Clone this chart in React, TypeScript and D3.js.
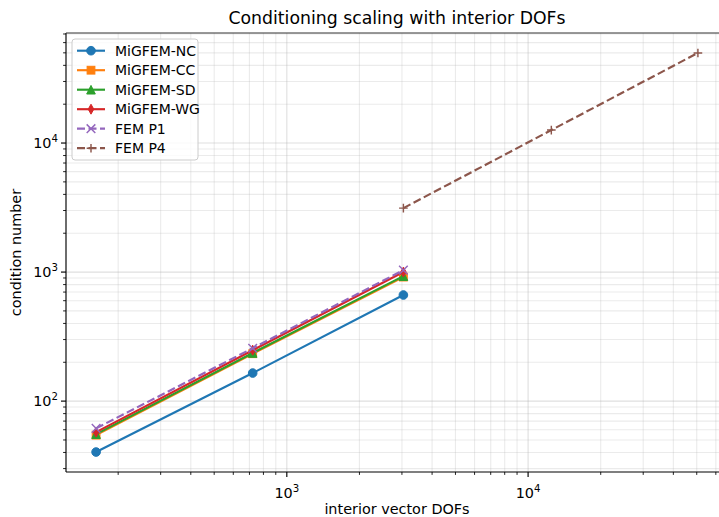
import React from "react";
import * as d3 from "d3";

const dofs = [162, 722, 3042];
const ncVals = [40.3, 165, 664];
const ccVals = [54.5, 233, 915];
const sdVals = [55.5, 236, 930];
const wgVals = [57.5, 248, 1000];
const p1Vals = [61.5, 257, 1035];
const p4Dofs = [3042, 12482, 50562];
const p4Vals = [3130, 12600, 49900];

const seriesNames = ["MiGFEM-NC", "MiGFEM-CC", "MiGFEM-SD", "MiGFEM-WG", "FEM P1", "FEM P4"];
const seriesColors = ["#1f77b4", "#ff7f0e", "#2ca02c", "#d62728", "#9467bd", "#8c564b"];
const seriesMarkers = ["circle", "square", "triangle", "thin_diamond", "x", "plus"];
const seriesDashed = [false, false, false, false, true, true];
const xMajorTicks = [1e3, 1e4];
const yMajorTicks = [1e2, 1e3, 1e4];

const W = 719;
const H = 517;
const L = 66, R = 728, T = 33, B = 472;
const FONT = "DejaVu Sans, sans-serif";

function logDomain(vals: number[]) {
  const lo = Math.log10(d3.min(vals)!);
  const hi = Math.log10(d3.max(vals)!);
  const m = (hi - lo) * 0.05;
  return [Math.pow(10, lo - m), Math.pow(10, hi + m)];
}

function Marker({ type, x, y, color }: { type: string; x: number; y: number; color: string }) {
  const s = 8.64;
  const h = s / 2;
  if (type === "circle") return <circle cx={x} cy={y} r={h} fill={color} stroke={color} strokeWidth={1} />;
  if (type === "square") return <rect x={x - h * 0.9} y={y - h * 0.9} width={s * 0.9} height={s * 0.9} fill={color} stroke={color} strokeWidth={1} />;
  if (type === "triangle")
    return <path d={`M${x},${y - h} L${x + h},${y + h} L${x - h},${y + h} Z`} fill={color} stroke={color} strokeWidth={1} strokeLinejoin="miter" />;
  if (type === "thin_diamond")
    return <path d={`M${x},${y - h * 1.15} L${x + h * 0.65},${y} L${x},${y + h * 1.15} L${x - h * 0.65},${y} Z`} fill={color} stroke={color} strokeWidth={1} />;
  if (type === "x")
    return <path d={`M${x - h},${y - h} L${x + h},${y + h} M${x - h},${y + h} L${x + h},${y - h}`} stroke={color} strokeWidth={1.44} fill="none" />;
  return <path d={`M${x - h},${y} L${x + h},${y} M${x},${y - h} L${x},${y + h}`} stroke={color} strokeWidth={1.44} fill="none" />;
}

function Pow10({ x, y, exp, anchor }: { x: number; y: number; exp: number; anchor: string }) {
  return (
    <text x={x} y={y} textAnchor={anchor} fontFamily={FONT} fontSize={14.4} fill="#000">
      10<tspan dy={-6} fontSize={10.2}>{exp}</tspan>
    </text>
  );
}

export default function App() {
  const allX = [...dofs, ...p4Dofs];
  const allY = [...ncVals, ...ccVals, ...sdVals, ...wgVals, ...p1Vals, ...p4Vals];
  const x = d3.scaleLog().domain(logDomain(allX)).range([L, R]);
  const y = d3.scaleLog().domain(logDomain(allY)).range([B, T]);

  const series = [
    { xs: dofs, ys: ncVals },
    { xs: dofs, ys: ccVals },
    { xs: dofs, ys: sdVals },
    { xs: dofs, ys: wgVals },
    { xs: dofs, ys: p1Vals },
    { xs: p4Dofs, ys: p4Vals },
  ];

  const xd = x.domain();
  const yd = y.domain();
  const xAll: number[] = [];
  const yAll: number[] = [];
  for (let e = 1; e <= 5; e++) {
    for (let k = 1; k <= 9; k++) {
      const v = k * Math.pow(10, e);
      if (v >= xd[0] && v <= xd[1]) xAll.push(v);
      if (v >= yd[0] && v <= yd[1]) yAll.push(v);
    }
  }
  const isMajor = (v: number) => Math.abs(Math.log10(v) - Math.round(Math.log10(v))) < 1e-9;

  const line = d3
    .line<[number, number]>()
    .x((d) => x(d[0]))
    .y((d) => y(d[1]));

  const legendRows = [50.7, 70.2, 89.7, 109.2, 128.7, 148.2];

  return (
    <svg width={W} height={H} style={{ position: "fixed", left: 0, top: 0, background: "#fff" }}>
      <rect x={0} y={0} width={W} height={H} fill="#fff" />
      <defs>
        <clipPath id="plotclip">
          <rect x={L} y={T} width={R - L} height={B - T} />
        </clipPath>
      </defs>
      {/* grid */}
      <g>
        {xAll.map((v) => (
          <line key={"gx" + v} x1={x(v)} x2={x(v)} y1={T} y2={B} stroke="#b0b0b0" strokeOpacity={isMajor(v) ? 0.4 : 0.25} strokeWidth={1.1} />
        ))}
        {yAll.map((v) => (
          <line key={"gy" + v} x1={L} x2={R} y1={y(v)} y2={y(v)} stroke="#b0b0b0" strokeOpacity={isMajor(v) ? 0.4 : 0.25} strokeWidth={1.1} />
        ))}
      </g>
      {/* series */}
      <g clipPath="url(#plotclip)">
        {series.map((s, i) => {
          const pts = s.xs.map((xv, j) => [xv, s.ys[j]] as [number, number]);
          return (
            <g key={i}>
              <path
                d={line(pts)!}
                fill="none"
                stroke={seriesColors[i]}
                strokeWidth={2.16}
                strokeDasharray={seriesDashed[i] ? "8,3.5" : undefined}
              />
              {pts.map((p, j) => (
                <Marker key={j} type={seriesMarkers[i]} x={x(p[0])} y={y(p[1])} color={seriesColors[i]} />
              ))}
            </g>
          );
        })}
      </g>
      {/* spines */}
      <line x1={L} x2={L} y1={T} y2={B} stroke="#000" strokeWidth={1.15} />
      <line x1={L} x2={R} y1={B} y2={B} stroke="#000" strokeWidth={1.15} />
      <line x1={L} x2={R} y1={T} y2={T} stroke="#333" strokeWidth={1.15} />
      <line x1={R} x2={R} y1={T} y2={B} stroke="#000" strokeWidth={1.15} />
      {/* ticks */}
      {xAll.map((v) => (
        <line key={"tx" + v} x1={x(v)} x2={x(v)} y1={B} y2={B + (isMajor(v) ? 5 : 2.9)} stroke="#000" strokeWidth={isMajor(v) ? 1.15 : 0.87} />
      ))}
      {yAll.map((v) => (
        <line key={"ty" + v} x1={L} x2={L - (isMajor(v) ? 5 : 2.9)} y1={y(v)} y2={y(v)} stroke="#000" strokeWidth={isMajor(v) ? 1.15 : 0.87} />
      ))}
      {xMajorTicks.map((v) => (
        <Pow10 key={"lx" + v} x={x(v)} y={B + 26} exp={Math.round(Math.log10(v))} anchor="middle" />
      ))}
      {yMajorTicks.map((v) => (
        <Pow10 key={"ly" + v} x={L - 8} y={y(v) + 5} exp={Math.round(Math.log10(v))} anchor="end" />
      ))}
      {/* labels */}
      <text x={(L + R) / 2} y={514} textAnchor="middle" fontFamily={FONT} fontSize={14.4}>
        interior vector DOFs
      </text>
      <text
        transform={`translate(${21},${(T + B) / 2}) rotate(-90)`}
        textAnchor="middle"
        fontFamily={FONT}
        fontSize={14.4}
      >
        condition number
      </text>
      <text x={(L + R) / 2} y={24} textAnchor="middle" fontFamily={FONT} fontSize={17.3}>
        Conditioning scaling with interior DOFs
      </text>
      {/* legend */}
      <rect x={72} y={39} width={126} height={121} rx={3} fill="#fff" fillOpacity={0.8} stroke="#cccccc" strokeWidth={1} />
      {seriesNames.map((name, i) => {
        const cy = legendRows[i];
        return (
          <g key={name}>
            <line
              x1={77}
              x2={105}
              y1={cy}
              y2={cy}
              stroke={seriesColors[i]}
              strokeWidth={2.16}
              strokeDasharray={seriesDashed[i] ? "8,3.5" : undefined}
            />
            <Marker type={seriesMarkers[i]} x={91} y={cy} color={seriesColors[i]} />
            <text x={115} y={cy + 5} fontFamily={FONT} fontSize={14} fill="#000">
              {name}
            </text>
          </g>
        );
      })}
    </svg>
  );
}
